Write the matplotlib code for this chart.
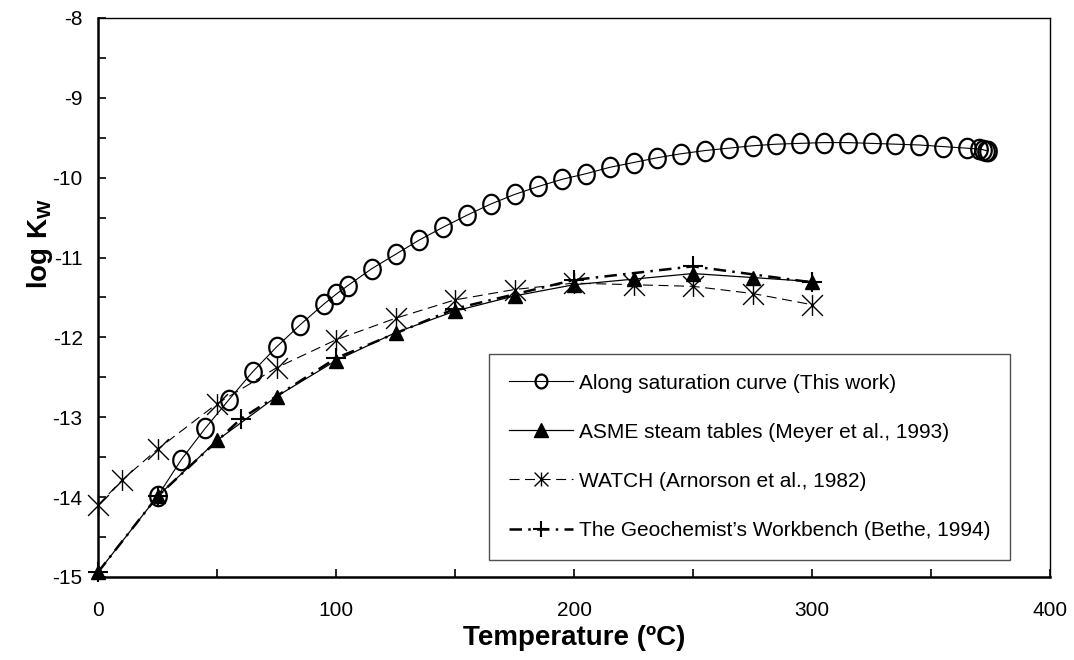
import matplotlib
matplotlib.use("Agg")
import matplotlib.pyplot as plt
import numpy as np
from matplotlib.path import Path

plt.rcParams['font.family'] = ['Liberation Sans', 'DejaVu Sans']
plt.rcParams['mathtext.fontset'] = 'custom'
plt.rcParams['mathtext.rm'] = 'Liberation Sans'
plt.rcParams['mathtext.bf'] = 'Liberation Sans:bold'

# --- data ---
sat_T = [25, 35, 45, 55, 65, 75, 85, 95, 100, 105, 115, 125, 135, 145, 155,
         165, 175, 185, 195, 205, 215, 225, 235, 245, 255, 265, 275, 285,
         295, 305, 315, 325, 335, 345, 355, 365, 370, 372, 373, 373.9]
sat_logK = [-13.99, -13.53, -13.14, -12.78, -12.43, -12.12, -11.84, -11.58,
            -11.46, -11.35, -11.14, -10.96, -10.78, -10.62, -10.47, -10.33,
            -10.21, -10.11, -10.02, -9.95, -9.87, -9.81, -9.75, -9.70, -9.66,
            -9.63, -9.60, -9.58, -9.57, -9.56, -9.56, -9.57, -9.58, -9.59,
            -9.61, -9.63, -9.64, -9.65, -9.66, -9.66]

asme_T = [0, 25, 50, 75, 100, 125, 150, 175, 200, 225, 250, 275, 300]
asme_logK = [-14.94, -13.99, -13.29, -12.74, -12.29, -11.94, -11.67, -11.48,
             -11.34, -11.27, -11.20, -11.25, -11.30]

watch_T = [0, 10, 25, 50, 75, 100, 125, 150, 175, 200, 225, 250, 275, 300]
watch_logK = [-14.10, -13.79, -13.40, -12.83, -12.38, -12.03, -11.76, -11.53,
              -11.40, -11.32, -11.34, -11.36, -11.45, -11.59]

gwb_T = [0, 25, 60, 100, 150, 200, 250, 300]
gwb_logK = [-14.94, -13.99, -13.02, -12.26, -11.64, -11.28, -11.11, -11.31]

labels = ['Along saturation curve (This work)',
          'ASME steam tables (Meyer et al., 1993)',
          'WATCH (Arnorson et al., 1982)',
          'The Geochemist\u2019s Workbench (Bethe, 1994)']

# marker shapes: slightly tall open ellipse, Excel-style asterisk
t = np.linspace(0, 2 * np.pi, 73)
ellipse = Path(np.column_stack([0.85 * np.cos(t), np.sin(t)]), closed=True)
star = Path([(-1, -1), (1, 1), (-1, 1), (1, -1), (0, -1), (0, 1)],
            [Path.MOVETO, Path.LINETO] * 3)

fig = plt.figure(figsize=(10.74, 6.6), dpi=100)
ax = fig.add_axes([98 / 1074, 83 / 660, 952 / 1074, 559 / 660])

ax.plot(sat_T, sat_logK, color='black', lw=0.8, marker=ellipse,
        markersize=14, mfc='none', mec='black', mew=1.6, clip_on=False,
        label=labels[0], zorder=3)
ax.plot(asme_T, asme_logK, color='black', lw=0.9, marker='^',
        markersize=10.5, mfc='black', mec='black', clip_on=False,
        label=labels[1], zorder=4)
ax.plot(watch_T, watch_logK, color='black', lw=0.8,
        linestyle=(0, (9, 5)), marker=star, markersize=15, mfc='none',
        mec='black', mew=1.0, clip_on=False, label=labels[2], zorder=5)
ax.plot(gwb_T, gwb_logK, color='black', lw=1.8,
        linestyle=(0, (5, 2.5, 1, 2.5)), marker='+', markersize=15,
        mew=1.5, clip_on=False, label=labels[3], zorder=6)

ax.set_xlim(0, 400)
ax.set_ylim(-15, -8)
ax.set_xticks([0, 100, 200, 300, 400])
ax.set_xticks([50, 150, 250, 350], minor=True)
ax.set_yticks(range(-15, -7))
ax.set_yticks(np.arange(-14.5, -8, 1.0), minor=True)
ax.set_yticklabels([str(v) for v in range(-15, -7)])

ax.tick_params(which='both', direction='in', length=6, width=1.2,
               labelsize=15, top=False, right=False)
ax.tick_params(axis='y', pad=11)
ax.tick_params(axis='x', pad=17)

for side in ['left', 'bottom']:
    ax.spines[side].set_linewidth(1.8)
for side in ['top', 'right']:
    ax.spines[side].set_linewidth(1.0)

ax.set_xlabel('Temperature (\u00baC)', fontsize=20, fontweight='bold')
ax.xaxis.set_label_coords(0.5, -0.085)
ax.set_ylabel(r'$\mathbf{log\ K_W}$', fontsize=20)
ax.yaxis.set_label_coords(-0.045, 0.596)

leg = ax.legend(loc='upper left', bbox_to_anchor=(489 / 1074, 1 - 354 / 660),
                bbox_transform=fig.transFigure, borderaxespad=0,
                fontsize=15, frameon=True, fancybox=False, framealpha=1,
                edgecolor='#505050', handlelength=3.1, handletextpad=0.25,
                labelspacing=1.44, borderpad=0.95)
leg.get_frame().set_linewidth(1.0)
for h, ms in zip(leg.legend_handles, [10, 10, 10, 11]):
    h.set_markersize(ms)

fig.savefig('out.png', dpi=100)
